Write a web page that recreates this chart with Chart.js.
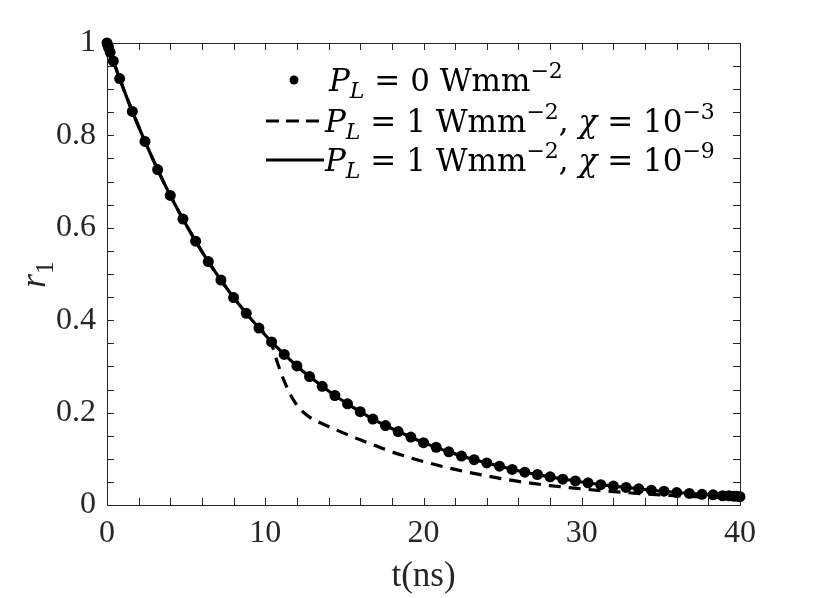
<!DOCTYPE html>
<html>
<head>
<meta charset="utf-8">
<script src="https://cdn.jsdelivr.net/npm/chart.js@4.4.1/dist/chart.umd.min.js"></script>
<style>
  html, body { margin: 0; padding: 0; background: #fff; }
</style>
</head>
<body>
<canvas id="decayChart" width="830" height="598"></canvas>
<script>
// values: r1 versus t (ns)
const tDots = [0, 0.05, 0.1, 0.2, 0.4, 0.8, 1.6, 2.4, 3.2, 4.0, 4.8, 5.6, 6.4, 7.2, 8.0, 8.8, 9.6,
  10.4, 11.2, 12.0, 12.8, 13.6, 14.4, 15.2, 16.0, 16.8, 17.6, 18.4, 19.2, 20.0, 20.8, 21.6, 22.4,
  23.2, 24.0, 24.8, 25.6, 26.4, 27.2, 28.0, 28.8, 29.6, 30.4, 31.2, 32.0, 32.8, 33.6, 34.4, 35.2,
  36.0, 36.8, 37.6, 38.3, 38.9, 39.3, 39.6, 39.8, 40.0];
const rDots = [1, 0.995, 0.990, 0.980, 0.961, 0.923, 0.852, 0.787, 0.726, 0.670, 0.619, 0.571, 0.527,
  0.487, 0.449, 0.415, 0.383, 0.353, 0.326, 0.301, 0.278, 0.257, 0.237, 0.219, 0.202, 0.186, 0.172,
  0.159, 0.147, 0.135, 0.125, 0.115, 0.106, 0.098, 0.091, 0.084, 0.077, 0.071, 0.066, 0.061, 0.056,
  0.052, 0.048, 0.044, 0.041, 0.038, 0.035, 0.032, 0.030, 0.027, 0.025, 0.023, 0.022, 0.020, 0.020,
  0.019, 0.019, 0.018];

// chi = 1e-9 curve sits on top of the P_L = 0 points
const tSolid = [0, 0.4, 0.8, 1.6, 2.4, 3.2, 4.0, 4.8, 5.6, 6.4, 7.2, 8.0, 8.8, 9.6, 10.4, 11.2, 12.0,
  12.8, 13.6, 14.4, 15.2, 16.0, 16.8, 17.6, 18.4, 19.2, 20.0, 21.6, 23.2, 24.8, 26.4, 28.0, 29.6,
  31.2, 32.8, 34.4, 36.0, 37.6, 39.2, 40.0];
const rSolid = [1, 0.961, 0.923, 0.852, 0.787, 0.726, 0.670, 0.619, 0.571, 0.527, 0.487, 0.449, 0.415,
  0.383, 0.353, 0.326, 0.301, 0.278, 0.257, 0.237, 0.219, 0.202, 0.186, 0.172, 0.159, 0.147, 0.135,
  0.115, 0.098, 0.084, 0.071, 0.061, 0.052, 0.044, 0.038, 0.032, 0.027, 0.023, 0.020, 0.018];

// chi = 1e-3 curve drops away after ~10 ns
const tDash = [0, 0.8, 1.6, 2.4, 3.2, 4.0, 4.8, 5.6, 6.4, 7.2, 8.0, 8.8, 9.6, 10.3, 10.8, 11.2, 11.6,
  12.0, 12.5, 13.0, 14.0, 15.0, 16.0, 17.0, 18.0, 19.0, 20.0, 22.0, 24.0, 26.0, 28.0, 30.0, 32.0,
  34.0, 36.0, 38.0, 40.0];
const rDash = [1, 0.923, 0.852, 0.787, 0.726, 0.670, 0.619, 0.571, 0.527, 0.487, 0.449, 0.415, 0.383,
  0.357, 0.305, 0.268, 0.238, 0.216, 0.198, 0.186, 0.170, 0.155, 0.141, 0.128, 0.115, 0.104, 0.094,
  0.077, 0.063, 0.051, 0.042, 0.035, 0.029, 0.024, 0.020, 0.017, 0.015];

const xTicks = [0, 10, 20, 30, 40];
const yTicks = [0, 0.2, 0.4, 0.6, 0.8, 1];
const xMinorStep = 2;
const yMinorStep = 0.05;

const FONT = '"Liberation Serif", serif';
const LEGEND_FONT = '"DejaVu Serif", serif';
const AXIS_COLOR = '#262626';

function toPoints(xs, ys) {
  return xs.map((x, i) => ({ x: x, y: ys[i] }));
}

// draws a run of text with italic / sub / sup pieces
function drawMath(ctx, x, y, parts, size, family) {
  parts.forEach(p => {
    const s = p.s ? Math.round(size * 0.7) : size;
    ctx.font = (p.i ? 'italic ' : '') + s + 'px ' + family;
    let dy = 0;
    if (p.s === 'sub') dy = size * 0.22;
    if (p.s === 'sup') dy = -size * 0.42;
    ctx.fillText(p.t, x, y + dy);
    x += ctx.measureText(p.t).width;
  });
  return x;
}

const legendRows = [
  { kind: 'dot', y: 80, parts: [{ t: 'P', i: 1 }, { t: 'L', i: 1, s: 'sub' }, { t: ' = 0 Wmm' }, { t: '\u22122', s: 'sup' }] },
  { kind: 'dash', y: 121, parts: [{ t: 'P', i: 1 }, { t: 'L', i: 1, s: 'sub' }, { t: ' = 1 Wmm' }, { t: '\u22122', s: 'sup' },
    { t: ', ' }, { t: '\u03c7', i: 1 }, { t: ' = 10' }, { t: '\u22123', s: 'sup' }] },
  { kind: 'line', y: 160, parts: [{ t: 'P', i: 1 }, { t: 'L', i: 1, s: 'sub' }, { t: ' = 1 Wmm' }, { t: '\u22122', s: 'sup' },
    { t: ', ' }, { t: '\u03c7', i: 1 }, { t: ' = 10' }, { t: '\u22129', s: 'sup' }] }
];

const axesBoxPlugin = {
  id: 'axesBox',
  beforeDatasetsDraw(chart) {
    const { ctx, chartArea: a, scales: { x, y } } = chart;
    ctx.save();
    ctx.strokeStyle = AXIS_COLOR;
    ctx.lineWidth = 1;
    ctx.strokeRect(a.left + 0.5, a.top + 0.5, a.right - a.left, a.bottom - a.top);
    const len = 7;
    ctx.beginPath();
    for (let v = x.min; v <= x.max + 1e-9; v += xMinorStep) {
      const px = Math.round(x.getPixelForValue(v)) + 0.5;
      ctx.moveTo(px, a.bottom); ctx.lineTo(px, a.bottom - len);
      ctx.moveTo(px, a.top); ctx.lineTo(px, a.top + len);
    }
    for (let v = y.min; v <= y.max + 1e-9; v += yMinorStep) {
      const py = Math.round(y.getPixelForValue(v)) + 0.5;
      ctx.moveTo(a.left, py); ctx.lineTo(a.left + len, py);
      ctx.moveTo(a.right, py); ctx.lineTo(a.right - len, py);
    }
    ctx.stroke();
    ctx.restore();
  },
  afterDraw(chart) {
    const ctx = chart.ctx;
    ctx.save();
    ctx.textBaseline = 'alphabetic';

    // y axis title r_1
    ctx.translate(45, 274);
    ctx.rotate(-Math.PI / 2);
    ctx.fillStyle = AXIS_COLOR;
    drawMath(ctx, -14, 0, [{ t: 'r', i: 1 }, { t: '1', s: 'sub' }], 36, FONT);
    ctx.setTransform(1, 0, 0, 1, 0, 0);

    // legend
    ctx.fillStyle = '#000';
    ctx.strokeStyle = '#000';
    legendRows.forEach(row => {
      ctx.lineWidth = 3;
      ctx.setLineDash(row.kind === 'dash' ? [13, 7] : []);
      if (row.kind === 'dot') {
        ctx.beginPath();
        ctx.arc(294, row.y, 4.5, 0, Math.PI * 2);
        ctx.fill();
      } else {
        ctx.beginPath();
        ctx.moveTo(266, row.y);
        ctx.lineTo(324, row.y);
        ctx.stroke();
      }
      ctx.setLineDash([]);
      drawMath(ctx, row.kind === 'dot' ? 329 : 325, row.y + 11, row.parts, 31, LEGEND_FONT);
    });
    ctx.restore();
  }
};

new Chart(document.getElementById('decayChart'), {
  type: 'scatter',
  data: {
    datasets: [
      {
        label: 'P_L = 0',
        data: toPoints(tDots, rDots),
        showLine: false,
        pointRadius: 5.5,
        pointBackgroundColor: '#000',
        pointBorderColor: '#000',
        pointBorderWidth: 0,
        clip: false
      },
      {
        label: 'chi = 1e-9',
        data: toPoints(tSolid, rSolid),
        showLine: true,
        borderColor: '#000',
        borderWidth: 3.2,
        pointRadius: 0,
        cubicInterpolationMode: 'monotone',
        clip: false
      },
      {
        label: 'chi = 1e-3',
        data: toPoints(tDash, rDash),
        showLine: true,
        borderColor: '#000',
        borderWidth: 3.2,
        borderDash: [12, 8],
        pointRadius: 0,
        cubicInterpolationMode: 'monotone',
        clip: false
      }
    ]
  },
  options: {
    responsive: false,
    animation: false,
    devicePixelRatio: 1,
    layout: { padding: { top: 43, right: 90, left: 0, bottom: 0 } },
    plugins: {
      legend: { display: false },
      tooltip: { enabled: false }
    },
    scales: {
      x: {
        type: 'linear',
        min: 0,
        max: 40,
        afterBuildTicks: (scale) => { scale.ticks = xTicks.map(v => ({ value: v })); },
        afterFit: (scale) => { scale.height = 93; },
        grid: { display: false, drawTicks: false },
        border: { display: false },
        ticks: {
          color: AXIS_COLOR,
          padding: 9,
          maxRotation: 0,
          font: { family: FONT, size: 32 },
          callback: (v) => String(v)
        },
        title: {
          display: true,
          text: 't(ns)',
          color: AXIS_COLOR,
          font: { family: FONT, size: 35 },
          padding: { top: 0, bottom: 0 }
        }
      },
      y: {
        type: 'linear',
        min: 0,
        max: 1,
        afterBuildTicks: (scale) => { scale.ticks = yTicks.map(v => ({ value: v })); },
        afterFit: (scale) => { scale.width = 107; },
        grid: { display: false, drawTicks: false },
        border: { display: false },
        ticks: {
          color: AXIS_COLOR,
          padding: 11,
          font: { family: FONT, size: 32 },
          callback: (v) => String(v)
        }
      }
    }
  },
  plugins: [axesBoxPlugin]
});
</script>
</body>
</html>
